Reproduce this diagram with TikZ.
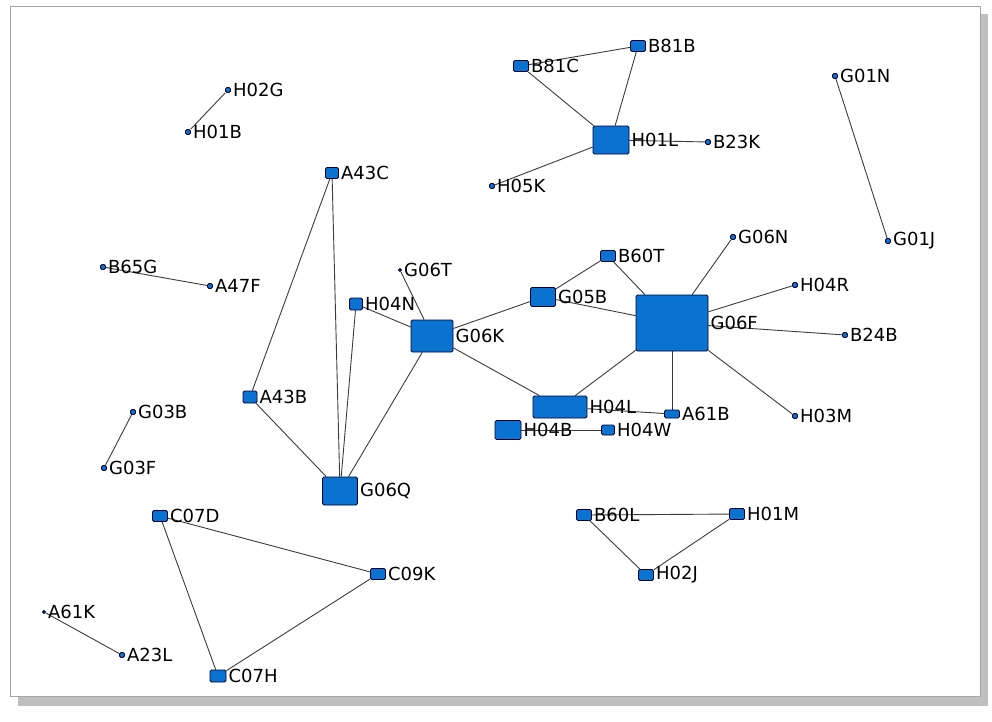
\documentclass[tikz,border=0pt]{standalone}
\usepackage{fontspec}
\setmainfont{DejaVu Sans}
\usetikzlibrary{backgrounds}
\definecolor{nodeblue}{RGB}{10,115,210}
\definecolor{edgegray}{RGB}{60,60,60}
\tikzset{
  cls/.style={draw=black!80!blue,fill=nodeblue,rounded corners=1.5pt,inner sep=0pt,line width=0.8pt},
  lbl/.style={anchor=west,inner sep=2pt,font=\fontsize{18}{18}\selectfont},
  link/.style={draw=edgegray,line width=0.9pt}
}
\newcommand{\cnode}[5]{% name, x, y, w, h
  \node[cls,minimum width=#4pt,minimum height=#5pt] (#1) at (#2,#3) {};}
\begin{document}
\begin{tikzpicture}[x=1pt,y=-1pt]
  \useasboundingbox (0,0) rectangle (992,721);
  % frame
  \begin{scope}[on background layer]
    \fill[black!25] (18,14) rectangle (988,706);
    \draw[black!35,fill=white,line width=1pt] (10,6) rectangle (980,696);
  \end{scope}
  \begin{scope}
    \clip (12,8) rectangle (952,682);
    % nodes
    \cnode{H02G}{228}{90}{5}{5}
    \cnode{H01B}{188}{132}{5}{5}
    \cnode{A43C}{332}{173}{13}{11}
    \cnode{A47F}{210}{286}{5}{5}
    \cnode{B65G}{103}{267}{5}{5}
    \cnode{G06T}{400}{270}{3}{3}
    \cnode{H04N}{356}{304}{13}{12}
    \cnode{G06K}{432}{336}{42}{32}
    \cnode{A43B}{250}{397}{14}{12}
    \cnode{G06Q}{340}{491}{35}{28}
    \cnode{G03B}{133}{412}{5}{5}
    \cnode{G03F}{104}{468}{5}{5}
    \cnode{C07D}{160}{516}{15}{11}
    \cnode{C09K}{378}{574}{15}{11}
    \cnode{C07H}{218}{676}{16}{12}
    \cnode{A61K}{44}{612}{3}{3}
    \cnode{A23L}{122}{655}{5}{5}
    \cnode{B81C}{521}{66}{15}{11}
    \cnode{B81B}{638}{46}{15}{11}
    \cnode{H01L}{611}{140}{36}{28}
    \cnode{B23K}{708}{142}{5}{5}
    \cnode{H05K}{492}{186}{5}{5}
    \cnode{G01N}{835}{76}{5}{5}
    \cnode{G01J}{888}{241}{5}{5}
    \cnode{B60T}{608}{256}{15}{11}
    \cnode{G06N}{733}{237}{5}{5}
    \cnode{G05B}{543}{297}{25}{19}
    \cnode{G06F}{672}{323}{72}{56}
    \cnode{H04R}{795}{285}{5}{5}
    \cnode{B24B}{845}{335}{5}{5}
    \cnode{H03M}{795}{416}{5}{5}
    \cnode{H04L}{560}{407}{54}{22}
    \cnode{H04B}{508}{430}{26}{19}
    \cnode{H04W}{608}{430}{13}{10}
    \cnode{A61B}{672}{414}{15}{8}
    \cnode{B60L}{584}{515}{15}{11}
    \cnode{H01M}{737}{514}{15}{11}
    \cnode{H02J}{646}{575}{15}{11}
    % labels
    \foreach \n in {H02G,H01B,A43C,A47F,B65G,G06T,H04N,G06K,A43B,G06Q,G03B,G03F,
      C07D,C09K,C07H,A61K,A23L,B81C,B81B,H01L,B23K,H05K,G01N,G01J,B60T,G06N,
      G05B,G06F,H04R,B24B,H03M,H04L,H04B,H04W,A61B,B60L,H01M,H02J}
      \node[lbl] at (\n.east) {\n};
  \end{scope}
  % links
  \begin{scope}[on background layer]
    \foreach \a/\b in {H02G/H01B,A43C/A43B,A43C/G06Q,B65G/A47F,H04N/G06Q,
      A43B/G06Q,G06K/G06Q,G06T/G06K,H04N/G06K,G06K/H04L,G06K/G05B,G05B/G06F,
      B60T/G05B,B60T/G06F,G06N/G06F,H04R/G06F,B24B/G06F,H03M/G06F,A61B/G06F,
      H04L/G06F,H04L/A61B,H04B/H04W,G03B/G03F,C07D/C09K,C07D/C07H,C09K/C07H,
      A61K/A23L,B81C/H01L,B81C/B81B,B81B/H01L,H05K/H01L,B23K/H01L,G01N/G01J,
      B60L/H01M,B60L/H02J,H01M/H02J}
      \path[link] (\a) -- (\b);
  \end{scope}
\end{tikzpicture}
\end{document}
